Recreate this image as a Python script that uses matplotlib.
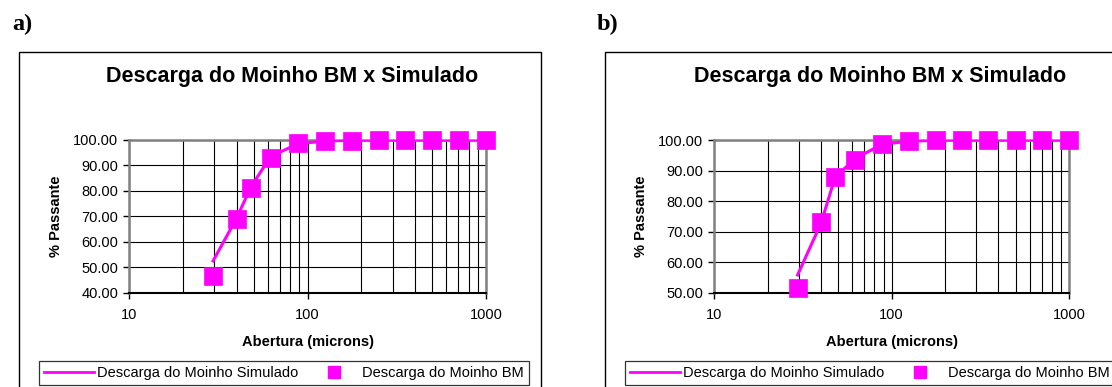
import matplotlib.pyplot as plt
from matplotlib.lines import Line2D
from matplotlib.patches import Rectangle
from matplotlib.ticker import FixedLocator, FixedFormatter, FormatStrFormatter, NullFormatter

plt.rcParams['font.family'] = ['Liberation Sans', 'DejaVu Sans']

# ── Data ──────────────────────────────────────────────────────────────────────
abertura = [29.5, 40, 48, 62, 88, 125, 177, 250, 350, 500, 707, 1000]

bm_a  = [46.7, 68.8, 81.3, 93.1, 98.7, 99.6, 99.8, 99.9, 100, 100, 100, 100]
sim_a = [52.5, 69.3, 81.5, 93.5, 98.5, 99.6, 99.9, 100, 100, 100, 100, 100]

bm_b  = [51.4, 73.1, 87.8, 93.4, 98.7, 99.7, 99.9, 100, 100, 100, 100, 100]
sim_b = [55.8, 72.8, 87.8, 93.8, 98.6, 99.6, 99.9, 100, 100, 100, 100, 100]

ylims  = [(40, 100), (50, 100)]
titulo = "Descarga do Moinho BM x Simulado"
lab_sim = "Descarga do Moinho Simulado"
lab_bm  = "Descarga do Moinho BM"
MAG = "#FF00FF"

W, H = 1112, 387
fig = plt.figure(figsize=(W / 100, H / 100), dpi=100)

def fx(px): return px / W
def fy(py): return 1 - py / H

panels = [
    dict(x0=129.3, x1=486.0, box=18.5, tit=292, tag="a)", tagx=22,
         bm=bm_a, sim=sim_a, ylim=ylims[0]),
    dict(x0=714.3, x1=1069.0, box=604.5, tit=880, tag="b)", tagx=608,
         bm=bm_b, sim=sim_b, ylim=ylims[1]),
]

for p in panels:
    # outer chart-area border
    fig.patches.append(Rectangle((fx(p["box"]), -0.1), fx(522), fy(51.7) + 0.1,
                                 transform=fig.transFigure, fill=False,
                                 edgecolor="black", lw=1.0))
    fig.text(fx(p["tagx"]), fy(24), p["tag"], ha="center", va="center",
             fontsize=17.5, fontweight="bold", family="Liberation Serif")
    fig.text(fx(p["tit"]), fy(76.7), titulo, ha="center", va="center",
             fontsize=15.5, fontweight="bold")

    ax = fig.add_axes([fx(p["x0"]), fy(292.7), fx(p["x1"] - p["x0"]), 152.7 / H])
    ax.plot(abertura, p["sim"], color=MAG, lw=2.2, zorder=3)
    ax.plot(abertura, p["bm"], ls="none", marker="s", ms=12.5, color=MAG,
            mec=MAG, mew=0.5, zorder=4, clip_on=False)

    ax.set_xscale("log")
    ax.set_xlim(10, 1000)
    ax.set_ylim(*p["ylim"])
    ax.xaxis.set_major_locator(FixedLocator([10, 100, 1000]))
    ax.xaxis.set_major_formatter(FixedFormatter(["10", "100", "1000"]))
    ax.xaxis.set_minor_formatter(NullFormatter())
    ax.set_yticks(range(p["ylim"][0], 101, 10))
    ax.yaxis.set_major_formatter(FormatStrFormatter("%.2f"))

    ax.grid(True, which="both", axis="x", color="black", lw=0.8)
    ax.grid(True, which="major", axis="y", color="black", lw=0.8)
    ax.set_axisbelow(True)
    ax.tick_params(axis="both", which="major", labelsize=10.5, length=4,
                   width=1, direction="out")
    ax.tick_params(axis="x", which="major", pad=7)
    ax.tick_params(axis="y", which="major", pad=4)
    ax.tick_params(axis="x", which="minor", length=0)

    for s in ("top", "right", "left"):
        ax.spines[s].set_color("#808080")
        ax.spines[s].set_linewidth(1.8)
    ax.spines["bottom"].set_color("black")
    ax.spines["bottom"].set_linewidth(1.5)

    ax.set_xlabel("Abertura (microns)", fontsize=10.5, fontweight="bold", va="center")
    ax.xaxis.set_label_coords(0.5, -0.323)
    ax.set_ylabel("% Passante", fontsize=10.5, fontweight="bold", va="center")
    ax.yaxis.set_label_coords(-0.2066, 0.5)

    handles = [Line2D([], [], color=MAG, lw=2),
               Line2D([], [], ls="none", marker="s", ms=8.6, color=MAG)]
    leg = fig.legend(handles, [lab_sim, lab_bm], ncol=2, loc="upper left",
                     bbox_to_anchor=(fx(p["box"] + 20.5), fy(360.7)),
                     borderaxespad=0, fontsize=10.5, frameon=True, fancybox=False,
                     edgecolor="black", handlelength=3.43, handletextpad=0.2,
                     columnspacing=0.75, borderpad=0.35)
    leg.get_frame().set_linewidth(0.9)

fig.savefig("out.png", dpi=100)
